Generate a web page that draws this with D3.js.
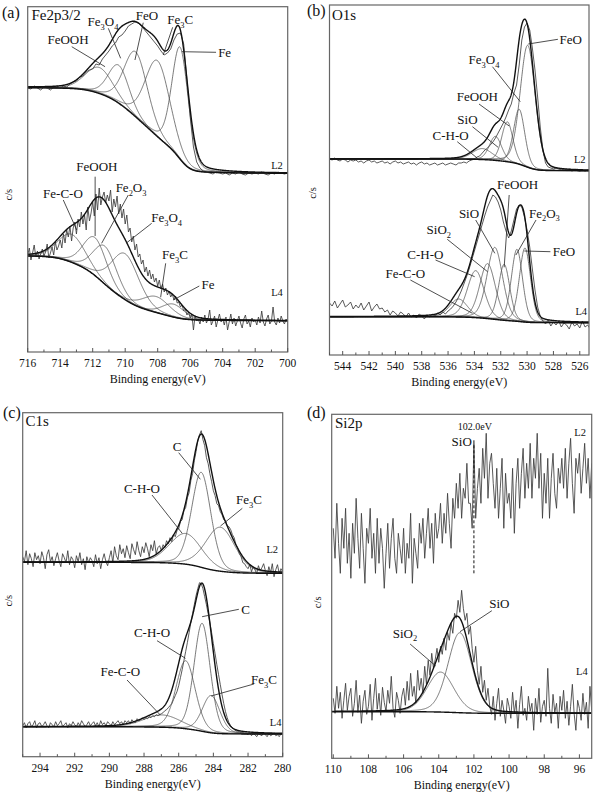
<!DOCTYPE html>
<html><head><meta charset="utf-8">
<script src="https://cdn.jsdelivr.net/npm/d3@7"></script>
<style>
body{margin:0;background:#fff}
svg{display:block}
text{font-family:"Liberation Serif","Times New Roman",serif;fill:#111}
</style>
</head><body>
<svg id="chart" width="595" height="797"></svg>
<script>
// ---------------- tick labels ----------------
const aTicks = [716,714,712,710,708,706,704,702,700];
const bTicks = [544,542,540,538,536,534,532,530,528,526];
const cTicks = [294,292,290,288,286,284,282,280];
const dTicks = [110,108,106,104,102,100,98,96];

// ---------------- (a) Fe2p3/2 ----------------
const aL2Start = 716, aL2Step = 0.2;
const aL2Raw = [264,263,266,264,262,265,264,262,265,266,
 264,266,265,268,270,271,275,276,280,282,
 283,288,287,293,297,301,306,309,315,317,
 321,326,328,330,329,326,322,318,314,310,
 306,301,297,299,303,312,318,319,308,272,
 235,205,190,184,181,180,179,178,180,179,
 178,179,177,179,178,180,178,177,179,178,
 179,178,180,178,177,179,178,180,179,178,179];
const aL2Names  = ["FeOOH","Fe3O4","FeO","Fe3C","Fe"];
const aL2Center = [711.6,710.4,709.35,708.0,706.62];
const aL2Height = [26,38,65,76,112];
const aL2Fwhm   = [2.0,1.5,1.7,1.8,1.2];
const aL2Bg     = [264.3,178.7];

const aL4Start = 716, aL4Step = 0.1;
const aL4Raw = [97,104,92,99,107,95,101,93,98,103,
 96,100,108,94,99,105,97,110,102,106,
 112,104,118,109,122,115,126,111,124,130,
 118,133,125,140,128,137,122,145,131,139,
 150,136,158,142,164,147,155,160,149,157,
 151,162,140,153,145,156,138,148,134,143,
 128,137,120,124,110,116,102,108,95,98,
 88,92,80,85,76,82,73,78,70,74,
 66,72,63,68,60,64,57,61,55,58,
 52,56,49,50,45,47,41,43,37,40,
 34,38,22,36,31,33,28,35,30,37,
 29,33,42,27,31,36,25,32,38,30,
 33,27,35,22,30,38,28,34,26,31,
 36,29,24,33,37,28,31,25,34,30,
 32,27,35,29,41,30,26,33,37,28,
 31,45,30,27,34,29,36,31,28,33,30];
const aL4Names  = ["Fe-C-O","FeOOH","Fe2O3","Fe3O4","Fe3C","Fe"];
const aL4Center = [713.3,711.86,711.24,710.0,708.1,707.04];
const aL4Height = [28,38,38,46,16,13];
const aL4Fwhm   = [2.0,1.7,1.7,2.0,2.0,1.6];
const aL4Bg     = [96,31.3];

// ---------------- (b) O1s ----------------
const bL2Start = 545, bL2Step = 0.2;
const bL2Raw = [196,195,197,195,194,196,195,193,195,194,
 195,193,194,192,194,195,193,194,192,193,
 194,192,193,191,193,194,192,193,191,192,
 193,191,192,190,192,193,191,192,190,191,
 192,190,191,192,190,191,192,191,190,192,
 192,193,192,194,195,196,198,199,202,205,
 207,210,213,217,222,227,232,238,245,251,
 262,270,290,315,328,332,325,307,285,258,
 228,205,192,188,187,186,187,186,185,186,
 185,186,184,185,186,184,185,184,185,184];
const bL2Names  = ["C-H-O","SiO","FeOOH","Fe3O4","FeO"];
const bL2Center = [533.4,532.4,531.5,530.6,529.95];
const bL2Height = [11,24,40,55,122];
const bL2Fwhm   = [1.8,1.1,1.0,1.0,1.35];
const bL2Bg     = [196,184.3];

const bL4Start = 545, bL4Step = 0.2;
const bL4Raw = [52,49,54,47,51,55,48,50,53,46,
 50,47,52,45,49,53,44,48,51,46,
 47,43,45,40,44,42,39,43,41,38,
 42,38,40,37,41,39,36,40,38,41,
 39,42,40,43,41,44,46,49,53,58,
 64,71,78,86,95,104,113,122,131,140,
 148,154,160,158,153,145,133,124,117,124,
 135,146,150,148,138,125,108,86,65,48,
 39,34,31,35,29,33,30,34,28,32,
 30,26,33,29,31,27,34,28,30,26];
const bL4Names  = ["Fe-C-O","C-H-O","SiO2","SiO","FeOOH","Fe2O3","FeO"];
const bL4Center = [535.2,533.9,533.0,532.45,531.74,530.77,530.16];
const bL4Height = [18,47,55,72,56,72,74];
const bL4Fwhm   = [1.6,1.5,1.4,1.4,1.0,1.0,1.0];
const bL4Bg     = [38.3,32.3];

// ---------------- (c) C1s ----------------
const cL2Start = 295, cL2Step = 0.1;
const cL2Raw = [200,195,206,192,203,198,190,204,197,201,
 193,205,199,188,202,207,195,200,191,198,
 204,196,190,203,199,194,206,192,200,197,
 189,201,195,204,192,198,187,200,194,199,
 196,190,202,193,199,188,197,203,195,191,
 199,206,194,210,201,197,212,203,208,199,
 211,204,198,213,207,202,215,206,200,210,
 204,214,208,200,212,206,216,203,209,211,
 206,212,209,216,213,219,215,222,220,226,
 228,235,237,246,249,259,264,276,283,296,
 305,316,322,326,317,311,299,293,283,275,
 266,261,253,251,245,242,237,236,231,230,
 227,222,219,212,209,203,200,194,193,190,
 188,192,185,190,187,183,191,186,189,193,
 186,181,190,184,193,180,187,192,183,188,185];
const cL2Names  = ["C-H-O","C","Fe3C"];
const cL2Center = [285.6,284.7,283.6];
const cL2Height = [30.7,95,44];
const cL2Fwhm   = [2.2,1.3,2.0];
const cL2Bg     = [194.4,183.4];

const cL4Start = 295, cL4Step = 0.1;
const cL4Raw = [31,34,29,33,35,30,32,36,29,33,
 34,30,32,35,31,29,34,32,30,35,
 31,33,36,30,32,34,29,33,31,35,
 32,30,34,31,36,33,30,32,35,31,
 33,35,31,34,30,36,32,34,31,35,
 33,31,35,32,34,36,33,35,32,36,
 34,36,33,37,35,34,38,36,37,39,
 37,39,38,40,39,41,40,42,41,42,
 43,44,46,47,49,51,53,57,61,65,
 71,79,87,96,105,114,124,134,143,152,
 161,168,174,173,168,160,152,143,134,124,
 113,103,92,82,72,62,53,45,39,34,
 31,29,27,26,25,25,24,24,23,23,
 22,24,21,23,22,20,23,22,21,24,
 22,20,23,21,22,24,21,22,20,23,22];
const cL4Names  = ["Fe-C-O","C-H-O","C","Fe3C"];
const cL4Center = [286.96,285.6,284.65,284.13];
const cL4Height = [12.3,68,108,37.3];
const cL4Fwhm   = [2.5,1.3,1.1,1.2];
const cL4Bg     = [30,22.7];

// ---------------- (d) Si2p ----------------
const dL2Start = 110, dL2Step = 0.1;
const dL2Raw = [230,200,255,215,185,240,210,250,195,225,
 180,235,205,260,220,190,245,210,175,230,
 215,250,200,225,185,240,195,230,210,170,
 205,235,190,220,240,200,185,225,210,195,
 230,185,215,200,245,175,220,205,190,235,
 215,240,200,225,250,210,235,195,245,220,
 230,255,215,245,225,265,235,210,260,240,
 275,250,285,240,270,260,295,255,255,230,
 315,240,270,290,255,310,280,325,260,295,
 305,275,250,290,240,270,300,230,285,255,
 265,240,290,225,275,300,250,285,310,260,
 295,270,315,260,300,280,325,270,305,240,
 285,255,300,240,280,305,265,250,290,275,
 300,270,310,260,295,320,275,245,300,285,
 305,265,290,315,275,300,260,295];

const dL4Start = 110, dL4Step = 0.1;
const dL4Raw = [60,45,72,50,66,40,58,75,48,62,
 70,42,55,78,46,63,35,57,68,44,
 52,74,38,60,80,49,65,43,71,56,
 47,68,55,82,50,41,66,58,45,62,
 70,53,77,58,85,62,72,55,88,68,
 80,65,92,74,98,83,105,90,99,110,
 96,112,104,120,108,126,118,135,125,145,
 140,158,146,168,150,138,145,124,132,110,
 96,112,88,74,92,66,78,58,70,52,
 44,62,38,55,70,42,58,48,35,60,
 52,40,66,45,58,30,54,72,43,50,
 38,62,47,55,28,60,44,70,36,52,
 58,42,90,50,35,64,46,55,30,62,
 48,68,40,57,33,52,74,45,28,58,
 50,38,65,44,56,30,72,48];
const dL4Names  = ["SiO2","SiO"];
const dL4Center = [103.9,102.8];
const dL4Height = [40,80];
const dL4Fwhm   = [1.8,1.6];
const dL4Bg     = [46.6,45];
const dMarkEnergy = 102.0;

// ---------------- annotations (energy, intensity) ----------------
const aAnn = [
 {t:"FeOOH", x:713.52, y:312, l:[713.29,305.3,711.24,285.3]},
 {t:"Fe_3O_4", x:711.37, y:330, l:[711.04,323.7,710.28,293.7]},
 {t:"FeO", x:708.66, y:336, l:[708.89,329.3,709.4,292]},
 {t:"Fe_3C", x:706.62, y:332, l:[707.08,324.7,707.66,297]},
 {t:"Fe", x:704.28, y:299, a:"start", l:[704.41,299.7,706.52,300.3]},
 {t:"FeOOH", x:711.74, y:185.3, l:[711.85,175.3,711.85,116]},
 {t:"Fe-C-O", x:713.83, y:158, l:[713.81,152,712.98,122]},
 {t:"Fe_2O_3", x:709.64, y:164, l:[709.81,157,711.45,108.7]},
 {t:"Fe_3O_4", x:707.45, y:134, l:[708.37,128.7,709.95,108.7]},
 {t:"Fe_3C", x:706.94, y:97, l:[707.51,88.7,707.82,54.7]},
 {t:"Fe", x:704.91, y:67, l:[705.44,66,707.04,52]},
 {t:"L2", x:700.66, y:186, s:10.5},
 {t:"L4", x:700.66, y:59, s:10.5}
];
const bAnn = [
 {t:"FeO", x:527.54, y:315.7, a:"start", l:[527.66,315.7,529.91,311]},
 {t:"Fe_3O_4", x:533.27, y:295, l:[532.63,288.3,530.52,253.3]},
 {t:"FeOOH", x:533.77, y:258.3, l:[533.65,251,531.36,229]},
 {t:"SiO", x:534.53, y:235, l:[534.15,228.3,532.2,207.7]},
 {t:"C-H-O", x:535.81, y:219, l:[535.3,213.3,533.77,196.7]},
 {t:"FeOOH", x:530.72, y:170, l:[531.36,160,531.74,87.7]},
 {t:"SiO", x:534.41, y:141.7, l:[533.9,135,532.45,101.7]},
 {t:"SiO_2", x:536.7, y:125, l:[536.06,115.7,533.0,83.3]},
 {t:"C-H-O", x:537.72, y:100, l:[536.95,95,533.98,78.3]},
 {t:"Fe-C-O", x:539.24, y:81.7, l:[538.86,75,534.15,41.7]},
 {t:"Fe_2O_3", x:528.69, y:141.7, l:[529.32,135,530.85,100]},
 {t:"FeO", x:528.05, y:103.3, a:"start", l:[528.23,103.3,530.21,104]},
 {t:"L2", x:526.0, y:195.7, s:10.5},
 {t:"L4", x:525.89, y:43.3, s:10.5}
];
const cAnn = [
 {t:"C", x:286.09, y:310, l:[286.0,304,284.75,277.4]},
 {t:"C-H-O", x:288.12, y:268.4, l:[287.54,261.7,285.8,223.4]},
 {t:"Fe_3C", x:281.95, y:256.7, l:[282.33,248.4,283.59,230.7]},
 {t:"C", x:282.14, y:147.4, l:[282.53,147.4,284.65,140]},
 {t:"C-H-O", x:287.54, y:124, l:[287.25,116,285.61,98.4]},
 {t:"Fe-C-O", x:289.37, y:85, l:[288.98,76.7,287.06,41.7]},
 {t:"Fe_3C", x:281.08, y:76.7, l:[281.66,72.7,284.13,60.7]},
 {t:"L2", x:280.6, y:206.7, s:10.5},
 {t:"L4", x:280.41, y:34, s:10.5}
];
const dAnn = [
 {t:"SiO", x:100.55, y:154.3, l:[100.98,147.6,102.79,126.6]},
 {t:"SiO_2", x:105.92, y:125, l:[105.63,114.3,104.17,92.3]},
 {t:"102.0eV", x:101.95, y:331.6, s:10},
 {t:"SiO", x:102.12, y:316.6, a:"end"},
 {t:"L2", x:95.96, y:325.6, s:10.5},
 {t:"L4", x:95.86, y:86.6, s:10.5}
];

// ---------------- layout ----------------
const panels = [
 {id:"a", letter:"(a)", title:"Fe2p3/2", left:27.7, right:287.7, top:6.7, bottom:352, dom:[716,700], ticks:aTicks,
  letterPos:[2,18], titlePos:[31.5,20], ylabX:12, ann:aAnn,
  spectra:[
   {start:aL2Start, step:aL2Step, raw:aL2Raw, c:aL2Center, h:aL2Height, w:aL2Fwhm, bg:aL2Bg},
   {start:aL4Start, step:aL4Step, raw:aL4Raw, c:aL4Center, h:aL4Height, w:aL4Fwhm, bg:aL4Bg}]},
 {id:"b", letter:"(b)", title:"O1s", left:329.5, right:589, top:5, bottom:355, dom:[545,525.3], ticks:bTicks,
  letterPos:[307,16], titlePos:[332,19.5], ylabX:316, ann:bAnn,
  spectra:[
   {start:bL2Start, step:bL2Step, raw:bL2Raw, c:bL2Center, h:bL2Height, w:bL2Fwhm, bg:bL2Bg},
   {start:bL4Start, step:bL4Step, raw:bL4Raw, c:bL4Center, h:bL4Height, w:bL4Fwhm, bg:bL4Bg}]},
 {id:"c", letter:"(c)", title:"C1s", left:22.7, right:282.7, top:412.7, bottom:756.7, dom:[295,280], ticks:cTicks,
  letterPos:[3,418], titlePos:[25.5,426], ylabX:11.5, ann:cAnn,
  spectra:[
   {start:cL2Start, step:cL2Step, raw:cL2Raw, c:cL2Center, h:cL2Height, w:cL2Fwhm, bg:cL2Bg},
   {start:cL4Start, step:cL4Step, raw:cL4Raw, c:cL4Center, h:cL4Height, w:cL4Fwhm, bg:cL4Bg}]},
 {id:"d", letter:"(d)", title:"Si2p", left:331.7, right:591.7, top:414.3, bottom:758.3, dom:[110.09,95.3], ticks:dTicks,
  letterPos:[307,418], titlePos:[335,427.5], ylabX:321, ann:dAnn, mark:dMarkEnergy,
  spectra:[
   {start:dL2Start, step:dL2Step, raw:dL2Raw},
   {start:dL4Start, step:dL4Step, raw:dL4Raw, c:dL4Center, h:dL4Height, w:dL4Fwhm, bg:dL4Bg}]}
];

const svg = d3.select("#chart");
const pv = (x, c, h, w) => {
  const d = (x - c) / w;
  return h * (0.8 * Math.exp(-4 * Math.LN2 * d * d) + 0.2 / (1 + 4 * d * d));
};

function richText(sel, str, size) {
  const parts = str.split(/(_\d)/).filter(p => p.length);
  let sub = false;
  const off = size * 0.25;
  parts.forEach(p => {
    if (p[0] === "_") {
      sel.append("tspan").attr("font-size", size * 0.65).attr("dy", sub ? 0 : off).text(p.slice(1));
      sub = true;
    } else {
      sel.append("tspan").attr("dy", sub ? -off : 0).text(p);
      sub = false;
    }
  });
}

panels.forEach(P => {
  const x = d3.scaleLinear().domain(P.dom).range([P.left, P.right]);
  const y = d3.scaleLinear().domain([0, P.bottom - P.top]).range([P.bottom, P.top]);
  const line = d3.line().x(d => x(d[0])).y(d => y(d[1]));
  const g = svg.append("g");
  svg.append("clipPath").attr("id", "clip" + P.id).append("rect")
    .attr("x", P.left).attr("y", P.top).attr("width", P.right - P.left).attr("height", P.bottom - P.top);
  const plot = g.append("g").attr("clip-path", `url(#clip${P.id})`);

  P.spectra.forEach(S => {
    const pts = S.raw.map((v, i) => [S.start - i * S.step, v]);
    plot.append("path").attr("d", line(pts)).attr("fill", "none")
      .attr("stroke", "#3c3c3c").attr("stroke-width", 0.85).attr("stroke-linejoin", "round");
    if (S.c) {
      const xs = d3.range(P.dom[0], P.dom[1] - 0.001, -0.02);
      const comp = S.c.map((c, k) => xs.map(xx => pv(xx, c, S.h[k], S.w[k])));
      const tot = xs.map((_, i) => d3.sum(comp, a => a[i]));
      let s = 0; const cum = new Array(xs.length);
      for (let i = xs.length - 1; i >= 0; i--) { s += tot[i]; cum[i] = s; }
      const bg = cum.map(cc => S.bg[1] + (S.bg[0] - S.bg[1]) * cc / s);
      comp.forEach(a => {
        plot.append("path").attr("d", line(xs.map((xx, i) => [xx, bg[i] + a[i]])))
          .attr("fill", "none").attr("stroke", "#4d4d4d").attr("stroke-width", 0.75);
      });
      plot.append("path").attr("d", line(xs.map((xx, i) => [xx, bg[i]])))
        .attr("fill", "none").attr("stroke", "#111").attr("stroke-width", 1.4);
      plot.append("path").attr("d", line(xs.map((xx, i) => [xx, bg[i] + tot[i]])))
        .attr("fill", "none").attr("stroke", "#111").attr("stroke-width", 1.4);
    }
  });

  if (P.mark !== undefined) {
    g.append("line").attr("x1", x(P.mark)).attr("x2", x(P.mark))
      .attr("y1", y(318)).attr("y2", y(185))
      .attr("stroke", "#111").attr("stroke-width", 1).attr("stroke-dasharray", "3,2");
  }

  // annotations
  P.ann.forEach(A => {
    const size = A.s || 13;
    if (A.l) {
      g.append("line").attr("x1", x(A.l[0])).attr("y1", y(A.l[1]))
        .attr("x2", x(A.l[2])).attr("y2", y(A.l[3]))
        .attr("stroke", "#222").attr("stroke-width", 0.8);
    }
    const t = g.append("text").attr("x", x(A.x)).attr("y", y(A.y) + size * 0.33)
      .attr("text-anchor", A.a || "middle").attr("font-size", size);
    richText(t, A.t, size);
  });

  // frame
  g.append("rect").attr("x", P.left).attr("y", P.top)
    .attr("width", P.right - P.left).attr("height", P.bottom - P.top)
    .attr("fill", "none").attr("stroke", "#666").attr("stroke-width", 1.2);

  // ticks
  const lo = Math.min(...P.dom), hi = Math.max(...P.dom);
  const minor = d3.range(Math.ceil(lo), Math.floor(hi) + 1).filter(v => !P.ticks.includes(v));
  g.selectAll(null).data(minor).enter().append("line")
    .attr("x1", d => x(d)).attr("x2", d => x(d)).attr("y1", P.bottom).attr("y2", P.bottom - 2.5)
    .attr("stroke", "#555").attr("stroke-width", 1);
  g.selectAll(null).data(P.ticks).enter().append("line")
    .attr("x1", d => x(d)).attr("x2", d => x(d)).attr("y1", P.bottom).attr("y2", P.bottom - 4)
    .attr("stroke", "#555").attr("stroke-width", 1);
  g.selectAll(null).data(P.ticks).enter().append("text")
    .attr("x", d => x(d)).attr("y", P.bottom + 15).attr("text-anchor", "middle")
    .attr("font-size", 11.5).text(d => d);

  // axis titles
  g.append("text").attr("x", (P.left + P.right) / 2).attr("y", P.bottom + 31)
    .attr("text-anchor", "middle").attr("font-size", 12).text("Binding energy(eV)");
  g.append("text").attr("transform", `translate(${P.ylabX},${P.top + 188}) rotate(-90)`)
    .attr("text-anchor", "middle").attr("font-size", 10.5).text("c/s");

  // letter + title
  g.append("text").attr("x", P.letterPos[0]).attr("y", P.letterPos[1]).attr("font-size", 16).text(P.letter);
  g.append("text").attr("x", P.titlePos[0]).attr("y", P.titlePos[1]).attr("font-size", 15).text(P.title);
});
</script>
</body></html>
